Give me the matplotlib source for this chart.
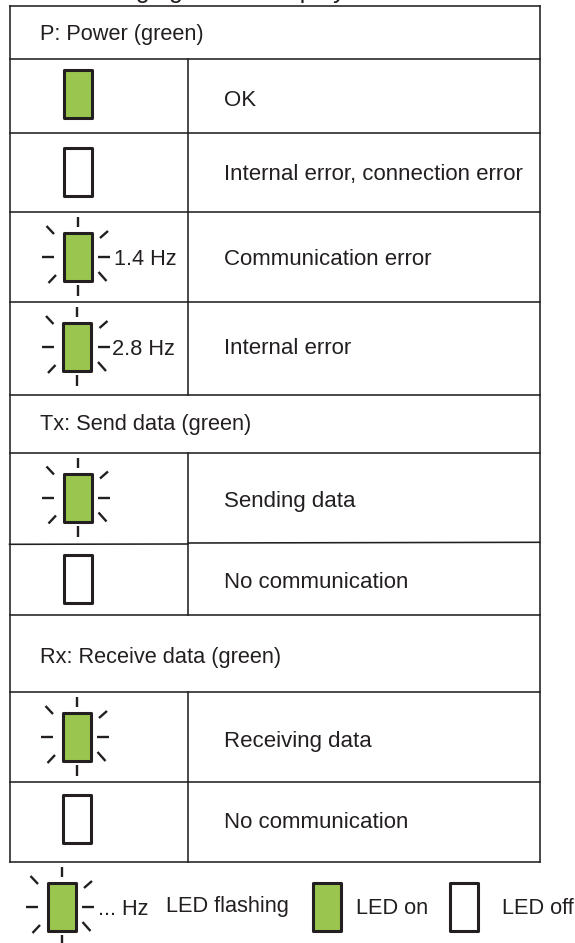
import matplotlib
matplotlib.use("Agg")
import matplotlib.pyplot as plt
from matplotlib.patches import Rectangle

plt.rcParams['font.family'] = ['Liberation Sans', 'DejaVu Sans']

# Text content of the table
headers = ["P: Power (green)", "Tx: Send data (green)", "Rx: Receive data (green)"]
meanings = ["OK", "Internal error, connection error", "Communication error", "Internal error",
            "Sending data", "No communication", "Receiving data", "No communication"]
led_states = ["on", "off", "flash", "flash", "flash", "off", "flash", "off"]
freq_labels = ["", "", "1.4 Hz", "2.8 Hz", "", "", "", ""]
legend_labels = ["... Hz", "LED flashing", "LED on", "LED off"]

# Layout in pixels
led_x = [77.5, 77.5, 77.5, 77, 77.5, 77.5, 76.5, 76.5]
led_y = [93.5, 171.5, 257, 347, 497.5, 579, 737, 819]
meaning_base = [106, 180, 265, 354, 507, 588, 747, 828]
header_base = [40, 430, 663]
freq_x = [0, 0, 114.5, 112, 0, 0, 0, 0]
freq_base = [0, 0, 265, 355, 0, 0, 0, 0]

DARK = "#231f20"
GREEN = "#9ac64f"
FONT = 16
SMALL_FONT = 15.7

# offsets of the little rays around a flashing led
rays = [((0, -40), (0, -30)), ((0, 28), (0, 39)),
        ((-35.5, 0), (-23.5, 0)), ((20.5, 0), (32.5, 0)),
        ((-31, -31), (-23.5, -23)), ((30.5, -26), (22.5, -19)),
        ((-29, 26), (-21.5, 18)), ((21, 15), (29, 24))]

fig = plt.figure(figsize=(5.75, 9.43), dpi=100)
ax = fig.add_axes([0, 0, 1, 1])
ax.set_xlim(0, 575)
ax.set_ylim(943, 0)
ax.axis("off")


def draw_led(cx, cy, state):
    color = "white" if state == "off" else GREEN
    ax.add_patch(Rectangle((cx - 14, cy - 24), 28, 48, facecolor=color, edgecolor=DARK,
                           linewidth=2.2, joinstyle="round", zorder=3))
    if state == "flash":
        for (x0, y0), (x1, y1) in rays:
            ax.plot([cx + x0, cx + x1], [cy + y0, cy + y1], color=DARK, lw=1.7,
                    solid_capstyle="butt", zorder=3)


def line(x0, y0, x1, y1):
    ax.plot([x0, x1], [y0, y1], color=DARK, lw=1.15, solid_capstyle="projecting", zorder=2)


def label(x, y, s, size=FONT):
    ax.text(x, y, s, fontsize=size, color=DARK, ha="left", va="baseline", zorder=4)


# table frame and grid lines
for y in [6, 59, 133, 212, 302, 395, 453, 615, 692, 782, 862]:
    line(9.5, y, 540, y)
line(9.5, 544.3, 188, 544)
line(188, 543, 540, 542.3)
line(9.5, 6, 9.5, 862)
line(540, 6, 540, 862)
for y0, y1 in [(59, 395), (453, 615), (692, 862)]:
    line(188, y0, 188, y1)

# cut off caption above the table, only the descenders are visible
ax.text(184, -2, "Changing", fontsize=18, color=DARK, ha="right", va="baseline")
ax.text(268, -2, "display", fontsize=18, color=DARK, ha="left", va="baseline")

for s, y in zip(headers, header_base):
    label(39.5, y, s, SMALL_FONT)

for i in range(len(meanings)):
    draw_led(led_x[i], led_y[i], led_states[i])
    label(224, meaning_base[i], meanings[i])
    if freq_labels[i]:
        label(freq_x[i], freq_base[i], freq_labels[i], SMALL_FONT)

# legend under the table
draw_led(61.5, 907, "flash")
draw_led(326.5, 907, "on")
draw_led(464, 907, "off")
for x, y, s in zip([98.5, 166.5, 356, 501.5], [915, 912, 914, 914], legend_labels):
    label(x, y, s, SMALL_FONT)

fig.savefig("out.png", dpi=100)
